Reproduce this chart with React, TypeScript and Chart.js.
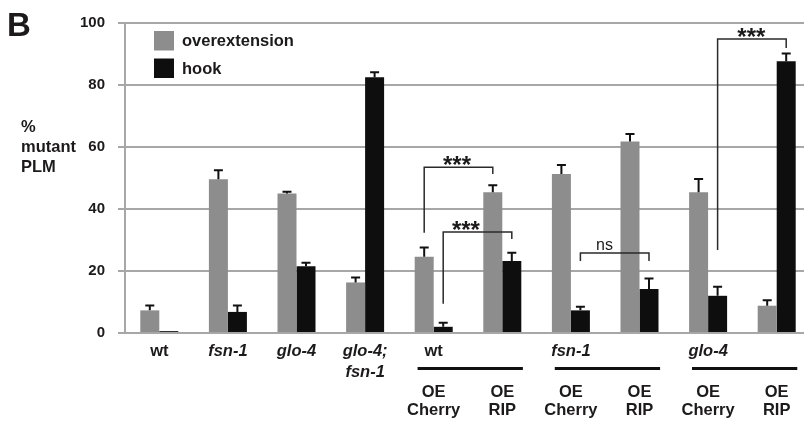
import React, { useEffect, useRef } from "react";
import { Chart, registerables } from "chart.js";
Chart.register(...registerables);

const categories = [
  "wt", "fsn-1", "glo-4", "glo-4; fsn-1",
  "wt OE Cherry", "wt OE RIP",
  "fsn-1 OE Cherry", "fsn-1 OE RIP",
  "glo-4 OE Cherry", "glo-4 OE RIP",
];
const genotypeLabels: string[][] = [
  ["wt"], ["fsn-1"], ["glo-4"], ["glo-4;", "fsn-1"],
  ["wt"], [], ["fsn-1"], [], ["glo-4"], [],
];
const transgeneLabels: string[][] = [
  [], [], [], [],
  ["OE", "Cherry"], ["OE", "RIP"],
  ["OE", "Cherry"], ["OE", "RIP"],
  ["OE", "Cherry"], ["OE", "RIP"],
];
const groupPairs: number[][] = [[4, 5], [6, 7], [8, 9]];

const seriesNames = ["overextension", "hook"];
const overextension = [7.3, 49.6, 45.0, 16.3, 24.6, 45.4, 51.3, 61.8, 45.4, 8.8];
const overextensionErr = [1.6, 2.9, 0.6, 1.6, 3.0, 2.3, 2.9, 2.4, 4.3, 1.8];
const hook = [0.6, 6.8, 21.5, 82.5, 2.0, 23.2, 7.3, 14.2, 12.0, 87.7];
const hookErr = [0, 2.1, 1.2, 1.6, 1.3, 2.7, 1.2, 3.4, 2.9, 2.5];

const yMin = 0;
const yMax = 100;
const yStep = 20;
const yTitle = ["%", "mutant", "PLM"];
const panelLetter = "B";

// significance brackets: endpoints tied to bars (dataset, category), heights in data units
const brackets = [
  { ds: 0, from: 4, to: 5, top: 53.5, fromEnd: 32.3, toEnd: 51.3, label: "***", labelAt: 4.34 },
  { ds: 1, from: 4, to: 5, top: 32.6, fromEnd: 9.4, toEnd: 30.3, label: "***", labelAt: 4.47 },
  { ds: 1, from: 6, to: 7, top: 25.8, fromEnd: 23.2, toEnd: 23.2, label: "ns", labelAt: 6.49 },
  { ds: 1, from: 8, to: 9, top: 94.8, fromEnd: 26.8, toEnd: 91.9, label: "***", labelAt: 8.63 },
];

const FONT = '"Liberation Sans", Arial, Helvetica, sans-serif';
const TEXT = "#1c1a1b";
const GRAY = "#8d8d8d";
const BLACK = "#0e0e0e";
const GRID = "#a7a7a7";

const errs = [overextensionErr, hookErr];

const decorPlugin = {
  id: "decor",
  afterDatasetsDraw(chart: any) {
    const ctx = chart.ctx;
    const y = chart.scales.y;
    const x = chart.scales.x;
    ctx.save();
    // error bars
    chart.data.datasets.forEach((ds: any, di: number) => {
      const meta = chart.getDatasetMeta(di);
      meta.data.forEach((el: any, i: number) => {
        const e = errs[di][i];
        if (!e || e <= 0) return;
        const top = y.getPixelForValue(ds.data[i] + e);
        ctx.strokeStyle = "#111";
        ctx.lineWidth = 2;
        ctx.beginPath();
        ctx.moveTo(el.x, el.y);
        ctx.lineTo(el.x, top);
        ctx.moveTo(el.x - 4.5, top);
        ctx.lineTo(el.x + 4.5, top);
        ctx.stroke();
      });
    });
    // brackets
    brackets.forEach((b) => {
      const meta = chart.getDatasetMeta(b.ds);
      const x1 = meta.data[b.from].x;
      const x2 = meta.data[b.to].x;
      const yt = y.getPixelForValue(b.top);
      ctx.strokeStyle = "#2a2a2a";
      ctx.lineWidth = 1.5;
      ctx.beginPath();
      ctx.moveTo(x1, y.getPixelForValue(b.fromEnd));
      ctx.lineTo(x1, yt);
      ctx.lineTo(x2, yt);
      ctx.lineTo(x2, y.getPixelForValue(b.toEnd));
      ctx.stroke();
      const lx = x.getPixelForValue(b.labelAt);
      ctx.fillStyle = TEXT;
      ctx.textAlign = "center";
      if (b.label === "ns") {
        ctx.font = `16px ${FONT}`;
        ctx.textBaseline = "alphabetic";
        ctx.fillText(b.label, lx, yt - 3);
      } else {
        ctx.font = `bold 24px ${FONT}`;
        ctx.textBaseline = "alphabetic";
        ctx.fillText(b.label, lx, yt + 6);
      }
    });
    ctx.restore();
  },
  afterDraw(chart: any) {
    const ctx = chart.ctx;
    const area = chart.chartArea;
    const x = chart.scales.x;
    ctx.save();
    ctx.fillStyle = TEXT;
    // panel letter
    ctx.font = `bold 33px ${FONT}`;
    ctx.textAlign = "left";
    ctx.textBaseline = "alphabetic";
    ctx.fillText(panelLetter, 7, 36);
    // y title
    ctx.font = `bold 16.5px ${FONT}`;
    ctx.textBaseline = "middle";
    yTitle.forEach((t, i) => ctx.fillText(t, 21, 127 + i * 20));
    // legend
    chart.data.datasets.forEach((ds: any, i: number) => {
      const ly = area.top + 8 + i * 27.5;
      ctx.fillStyle = ds.backgroundColor;
      ctx.fillRect(area.left + 29, ly, 20, 19.5);
      ctx.fillStyle = TEXT;
      ctx.font = `bold 16.5px ${FONT}`;
      ctx.textAlign = "left";
      ctx.textBaseline = "middle";
      ctx.fillText(ds.label, area.left + 57, ly + 10.5);
    });
    // x labels
    const base = area.bottom;
    ctx.textAlign = "center";
    ctx.textBaseline = "middle";
    genotypeLabels.forEach((lines, i) => {
      const cx = x.getPixelForValue(i);
      lines.forEach((t, j) => {
        ctx.font = `${t === "wt" ? "" : "italic "}bold 16.5px ${FONT}`;
        ctx.fillText(t, cx, base + 18.5 + j * 20.5);
      });
    });
    transgeneLabels.forEach((lines, i) => {
      const cx = x.getPixelForValue(i);
      lines.forEach((t, j) => {
        ctx.font = `bold 16.5px ${FONT}`;
        ctx.fillText(t, cx, base + 59 + j * 18.5);
      });
    });
    ctx.strokeStyle = "#111";
    ctx.lineWidth = 3;
    groupPairs.forEach(([a, b]) => {
      const xa = x.getPixelForValue(a - 0.235);
      const xb = x.getPixelForValue(b + 0.3);
      ctx.beginPath();
      ctx.moveTo(xa, base + 35.5);
      ctx.lineTo(xb, base + 35.5);
      ctx.stroke();
    });
    ctx.restore();
  },
};

export default function App() {
  const ref = useRef<HTMLCanvasElement>(null);
  useEffect(() => {
    const chart = new Chart(ref.current as HTMLCanvasElement, {
      type: "bar",
      data: {
        labels: categories,
        datasets: [
          { label: seriesNames[0], data: overextension, backgroundColor: GRAY, borderWidth: 0 },
          { label: seriesNames[1], data: hook, backgroundColor: BLACK, borderWidth: 0 },
        ],
      },
      options: {
        responsive: false,
        animation: false,
        devicePixelRatio: 1,
        layout: { padding: { top: 23, right: 0, bottom: 90, left: 0 } },
        datasets: { bar: { categoryPercentage: 0.554, barPercentage: 1.0 } },
        plugins: { legend: { display: false }, tooltip: { enabled: false }, title: { display: false } },
        scales: {
          x: { display: false, offset: true },
          y: {
            min: yMin,
            max: yMax,
            afterFit: (s: any) => { s.width = 125; },
            ticks: {
              stepSize: yStep,
              padding: 13,
              color: TEXT,
              font: { family: FONT, size: 15, weight: "bold" },
            },
            grid: { color: GRID, lineWidth: 2, tickLength: 7, drawTicks: true },
            border: { display: true, color: GRID, width: 2 },
          },
        },
      },
      plugins: [decorPlugin],
    } as any);
    return () => chart.destroy();
  }, []);
  return (
    <div style={{ position: "fixed", left: 0, top: 0, width: 804, height: 423, overflow: "hidden", background: "#fff" }}>
      <canvas ref={ref} width={811} height={423} style={{ display: "block", width: 811, height: 423 }} />
    </div>
  );
}
